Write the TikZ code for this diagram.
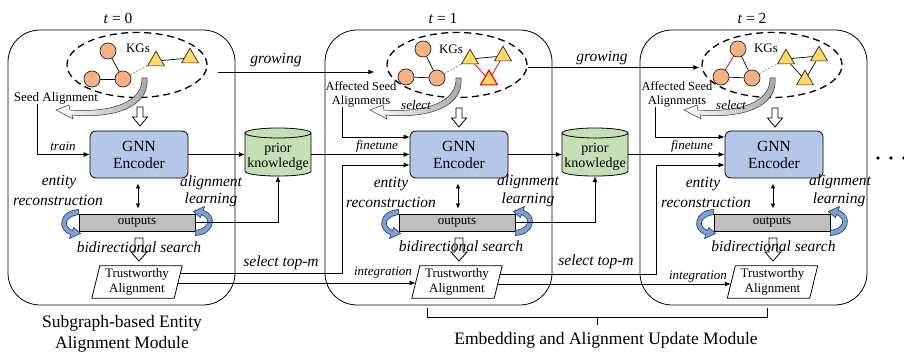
\documentclass[tikz,border=0pt]{standalone}
\usepackage{fontspec}
\setmainfont{Liberation Serif}
\usetikzlibrary{arrows.meta,calc,shapes.geometric}
\definecolor{gnnblue}{HTML}{B4C7E7}
\definecolor{pkgreen}{HTML}{C5E0B4}
\definecolor{outgray}{HTML}{BFBFBF}
\definecolor{entorange}{HTML}{F4B183}
\definecolor{triyellow}{HTML}{FFD966}
\definecolor{crescfill}{HTML}{7E9ED6}
\definecolor{crescdraw}{HTML}{203864}
\definecolor{dashgreen}{HTML}{70AD47}
\tikzset{
 panel/.style={draw, line width=0.8pt, rounded corners=32pt},
 conn/.style={line width=0.8pt},
 arr/.style={conn, -{Latex[length=6pt,width=5pt]}},
 dblarr/.style={conn, {Latex[length=5pt,width=4.5pt]}-{Latex[length=5pt,width=4.5pt]}},
 gnn/.style={draw, line width=0.8pt, fill=gnnblue, rounded corners=6pt, minimum width=98pt, minimum height=47pt, inner sep=0pt, align=center, font=\fontsize{15.5}{17}\selectfont},
 outbox/.style={draw, line width=0.8pt, fill=outgray, minimum width=116pt, minimum height=17pt, inner sep=0pt, font=\fontsize{13}{15}\selectfont},
 tanode/.style={minimum width=82pt, minimum height=32pt, inner sep=0pt, align=center, font=\fontsize{13}{14.5}\selectfont},
 pknode/.style={minimum width=66pt, minimum height=46pt, inner sep=0pt, align=center, font=\fontsize{14}{15}\selectfont},
 kgell/.style={draw, ellipse, dash pattern=on 7pt off 4.5pt, line width=1.3pt, minimum width=140pt, minimum height=65pt, inner sep=0pt},
 ent/.style={circle, draw=black!85, fill=entorange, line width=0.7pt, minimum size=16pt, inner sep=0pt},
 tri/.style={regular polygon, regular polygon sides=3, draw=black!85, fill=triyellow, line width=0.7pt, minimum size=19.5pt, inner sep=0pt},
 redtri/.style={tri, draw=red, line width=1.2pt},
 kgedge/.style={line width=0.7pt},
 rededge/.style={line width=0.8pt, red},
 alnedge/.style={line width=0.8pt, dashgreen, dash pattern=on 2pt off 1.5pt},
 txt/.style={inner sep=0pt, align=center, font=\fontsize{13}{14.5}\selectfont},
 astxt/.style={inner sep=0pt, align=center, font=\fontsize{12.5}{14}\selectfont},
 itxt/.style={inner sep=0pt, align=center, font=\itshape\fontsize{15.5}{17}\selectfont},
 stxt/.style={inner sep=0pt, align=center, font=\itshape\fontsize{13}{15}\selectfont},
 captxt/.style={inner sep=0pt, align=center, font=\fontsize{17.5}{21}\selectfont},
 ttl/.style={inner sep=0pt, font=\fontsize{15.5}{17}\selectfont},
 openarr/.style={draw=black, fill=white, line width=0.8pt},
 selarr/.pic={\draw[draw=black!80, line width=0.5pt, left color=white, right color=black!35] (3,0) .. controls (6,28) and (-28,41) .. (-72,37) -- (-71,41) -- (-88,32) -- (-75,27) -- (-74,32) .. controls (-30,35) and (-1,23) .. (-2,0) -- cycle;},
 cresc/.pic={\filldraw[fill=crescfill, draw=crescdraw, line width=0.6pt] (0,-13) .. controls (-20,-12) and (-22,8) .. (-8,12) -- (-9,16) -- (2,11) -- (-5,5) -- (-6,8) .. controls (-16,4) and (-14,-6) .. (0,-8) -- cycle;},
 openarrA/.pic={\draw[openarr] (-3,0) -- (3,0) -- (3,10) -- (7.5,10) -- (0,19) -- (-7.5,10) -- (-3,10) -- cycle;},
 openarrB/.pic={\draw[openarr] (-4,0) -- (4,0) -- (4,14) -- (8,14) -- (0,23) -- (-8,14) -- (-4,14) -- cycle;},
 cylpic/.pic={\filldraw[fill=pkgreen, draw=black, line width=0.8pt] (-33,133) -- (-33,171) .. controls (-33,177.7) and (33,177.7) .. (33,171) -- (33,133) -- cycle;
   \filldraw[fill=pkgreen, draw=black, line width=0.8pt] (0,133) ellipse [x radius=33pt, y radius=5pt];},
}
\begin{document}
\begin{tikzpicture}[x=1pt,y=-1pt]
\useasboundingbox (0,0) rectangle (904,352);
% panels
\draw[panel] (8,30) rectangle (235,305);
\draw[panel] (325,30) rectangle (552,305);
\draw[panel] (640,30) rectangle (867,305);
\node[ttl] at (118,18) {\textit{t} = 0};
\node[ttl] at (443,18) {\textit{t} = 1};
\node[ttl] at (752,18) {\textit{t} = 2};

% ---------- panel 0 ----------
\node[kgell] (kg0) at (137,65) {};
\node[txt] (kgl0) at (138,48) {KGs};
\node[ent] (a01) at (108,51) {};
\node[ent] (a02) at (92,79) {};
\node[ent] (a03) at (123,79) {};
\node[tri] (b01) at (156,61) {};
\node[tri] (b02) at (190,58) {};
\draw[kgedge] (a01) -- (a03);
\draw[kgedge] (a02) -- (a03);
\draw[kgedge] (b01) -- (b02);
\draw[alnedge] (a03) -- (b01);
\node[txt] (sa0) at (56,98) {Seed Alignment};
\pic at (144,78) {selarr};
\pic at (140,107) {openarrA};
\node[gnn] (g0) at (139,154.5) {GNN\\Encoder};
\node[itxt] at (59,182) {entity};
\node[itxt] at (58,200) {reconstruction};
\node[itxt] at (211,183) {alignment};
\node[itxt] at (211,200) {learning};
\node[outbox] (o0) at (137,222.5) {outputs};
\pic at (o0.west) {cresc};
\pic[rotate=180] at (o0.east) {cresc};
\draw[dblarr] ($(g0.south)+(-1,5)$) -- ($(o0.north)+(1,-5)$);
\pic at (139,238) {openarrB};
\node[itxt] at (139,247) {bidirectional search};
\node[tanode] (ta0) at (137,282) {Trustworthy\\Alignment};
\draw[conn] ($(ta0.north west)+(4,0)$) -- ($(ta0.north east)+(4,0)$) -- ($(ta0.south east)+(-4,0)$) -- ($(ta0.south west)+(-4,0)$) -- cycle;
\draw[arr] ($(sa0.south)+(-19,0)$) |- (g0.west);
\node[stxt] at (63,146) {train};

% prior knowledge 0
\pic at (278,0) {cylpic};
\node[pknode] (pk0) at (278,157) {prior\\knowledge};
\draw[arr] (g0.east) -- (g0.east -| pk0.west);
\draw[arr] (o0.east) -| ($(pk0.south)+(0,-4)$);

% ---------- panel 1 ----------
\node[kgell] (kg1) at (457,65) {};
\node[txt] (kgl1) at (451,49) {KGs};
\node[ent] (a11) at (423,49) {};
\node[ent] (a12) at (406,77) {};
\node[ent] (a13) at (437,78) {};
\node[tri] (b11) at (470,59) {};
\node[tri] (b12) at (503,56) {};
\node[redtri] (b13) at (489,80) {};
\draw[kgedge] (a11) -- (a13);
\draw[kgedge] (a12) -- (a13);
\draw[kgedge] (b11) -- (b12);
\draw[rededge] (b11) -- (b13);
\draw[rededge] (b12) -- (b13);
\draw[alnedge] (a13) -- (b11);
\node[astxt] (as1) at (361,94) {Affected Seed\\Alignments};
\pic at (458,78) {selarr};
\node[stxt] at (416,105) {select};
\pic at (459,108) {openarrA};
\node[gnn] (g1) at (459,154.5) {GNN\\Encoder};
\node[itxt] at (391,184) {entity};
\node[itxt] at (391,202) {reconstruction};
\node[itxt] at (528,182) {alignment};
\node[itxt] at (528,200) {learning};
\node[outbox] (o1) at (457,222.5) {outputs};
\pic at (o1.west) {cresc};
\pic[rotate=180] at (o1.east) {cresc};
\draw[dblarr] ($(g1.south)+(-1,5)$) -- ($(o1.north)+(1,-5)$);
\pic at (459,238) {openarrB};
\node[itxt] at (461,246) {bidirectional search};
\node[tanode] (ta1) at (457,282) {Trustworthy\\Alignment};
\draw[conn] ($(ta1.north west)+(4,0)$) -- ($(ta1.north east)+(4,0)$) -- ($(ta1.south east)+(-4,0)$) -- ($(ta1.south west)+(-4,0)$) -- cycle;
\draw[arr] ($(as1.south)+(-19,0)$) |- ($(g1.west)+(0,-17.5)$);

% prior knowledge 1
\pic at (595,0) {cylpic};
\node[pknode] (pk1) at (595,157) {prior\\knowledge};
\draw[arr] (g1.east) -- (g1.east -| pk1.west);
\draw[arr] (o1.east) -| ($(pk1.south)+(0,-4)$);

% ---------- panel 2 ----------
\node[kgell] (kg2) at (772,65) {};
\node[txt] (kgl2) at (766,48) {KGs};
\node[ent] (a21) at (738,49) {};
\node[ent] (a22) at (721,77) {};
\node[ent] (a23) at (752,78) {};
\node[tri] (b21) at (786,59) {};
\node[tri] (b22) at (819,56) {};
\node[tri] (b23) at (805,80) {};
\draw[rededge] (a21) -- (a22);
\draw[kgedge] (a21) -- (a23);
\draw[kgedge] (a22) -- (a23);
\draw[kgedge] (b21) -- (b22);
\draw[kgedge] (b21) -- (b23);
\draw[kgedge] (b22) -- (b23);
\draw[alnedge] (a23) -- (b21);
\node[astxt] (as2) at (677,94) {Affected Seed\\Alignments};
\pic at (772,78) {selarr};
\node[stxt] at (731,105) {select};
\pic at (775,108) {openarrA};
\node[gnn] (g2) at (774,154.5) {GNN\\Encoder};
\node[itxt] at (703,184) {entity};
\node[itxt] at (706,202) {reconstruction};
\node[itxt] at (840,182) {alignment};
\node[itxt] at (839,200) {learning};
\node[outbox] (o2) at (772,222.5) {outputs};
\pic at (o2.west) {cresc};
\pic[rotate=180] at (o2.east) {cresc};
\draw[dblarr] ($(g2.south)+(-1,5)$) -- ($(o2.north)+(1,-5)$);
\pic at (773,238) {openarrB};
\node[itxt] at (773.5,246) {bidirectional search};
\node[tanode] (ta2) at (772.5,282) {Trustworthy\\Alignment};
\draw[conn] ($(ta2.north west)+(4,0)$) -- ($(ta2.north east)+(4,0)$) -- ($(ta2.south east)+(-4,0)$) -- ($(ta2.south west)+(-4,0)$) -- cycle;
\draw[arr] ($(as2.south)+(-22,0)$) |- ($(g2.west)+(0,-17.5)$);

% ---------- connections between panels ----------
\draw[arr] ($(kg0.east)+(10,7)$) -- ($(kg1.west)+(-12,7)$);
\node[itxt] at (276,60) {growing};
\draw[arr] ($(kg1.east)+(0,2.5)$) -- ($(kg2.west)+(-2,2.5)$);
\node[itxt] at (602,58) {growing};

\draw[arr] (pk0.east |- g1.west) -- (g1.west);
\node[stxt] at (377,146) {finetune};
\draw[arr] (pk1.east |- g2.west) -- (g2.west);
\node[stxt] at (692,146) {finetune};

\draw[arr] ($(ta0.east)+(2,-9)$) -| ($(g1.west)+(-67,10.5)$) -- ($(g1.west)+(0,10.5)$);
\node[itxt] at (281,263) {select top-m};
\draw[arr] ($(ta0.east)+(-0.25,1)$) -- ($(ta1.west)+(-0.25,1)$);
\node[stxt] at (383,273) {integration};

\draw[arr] ($(ta1.east)+(2,-8)$) -| ($(g2.west)+(-68,10.5)$) -- ($(g2.west)+(0,10.5)$);
\node[itxt] at (596,262) {select top-m};
\draw[arr] ($(ta1.east)+(-0.5,2)$) -- ($(ta2.west)+(-0.5,2)$);
\node[stxt] at (698,277) {integration};

% dots
\fill (878,158) circle[radius=1.8pt];
\fill (891,158) circle[radius=1.8pt];
\fill (904,158) circle[radius=1.8pt];

% brace and captions
\draw[conn] (427,308) -- (427,317) -- (767,317) -- (767,308);
\draw[conn] (597,317) -- (597,325);
\node[captxt] at (122,334) {Subgraph-based Entity\\Alignment Module};
\node[captxt] at (606,340) {Embedding and Alignment Update Module};
\end{tikzpicture}
\end{document}
